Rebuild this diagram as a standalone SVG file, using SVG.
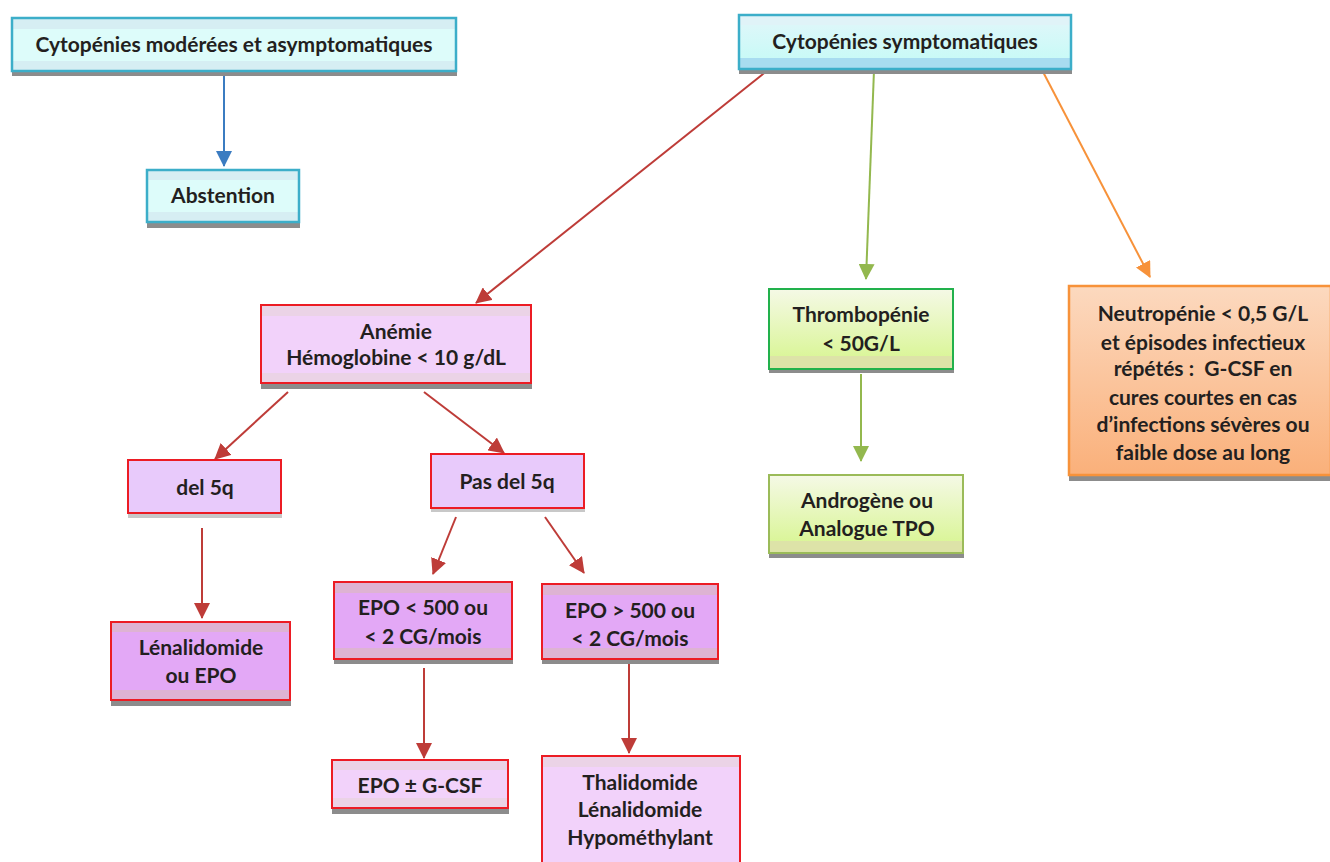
<svg xmlns="http://www.w3.org/2000/svg" width="1330" height="862" viewBox="0 0 1330 862">
<defs>
<style>
text{font-family:Lato,"Open Sans","Liberation Sans",sans-serif;font-weight:bold;font-size:21px;fill:#231F20;text-anchor:middle}
.sh{fill:#8C8C8C}
.cyb{fill:#D6EEF3}
.pkb{fill:#EBD3E6}
.pdb{fill:#DEB3D3}
.ar{stroke:#BE3C38;stroke-width:2;fill:none}
</style>
<linearGradient id="gg" x1="0" y1="0" x2="0" y2="1"><stop offset="0" stop-color="#F5F9E6"/><stop offset="1" stop-color="#D6F58C"/></linearGradient>
<linearGradient id="og" x1="0" y1="0" x2="0" y2="1"><stop offset="0" stop-color="#FCD9BF"/><stop offset="1" stop-color="#FAB07A"/></linearGradient>
<linearGradient id="cg" x1="0" y1="0" x2="0" y2="1"><stop offset="0" stop-color="#E2F6FA"/><stop offset="1" stop-color="#C3FBF6"/></linearGradient>
<marker id="mb" markerWidth="16" markerHeight="16" refX="15" refY="8" orient="auto" markerUnits="userSpaceOnUse" viewBox="0 0 16 16"><path d="M0,0 L16,8 L0,16 z" fill="#3B7CC1"/></marker>
<marker id="mg" markerWidth="16" markerHeight="16" refX="15" refY="8" orient="auto" markerUnits="userSpaceOnUse" viewBox="0 0 16 16"><path d="M0,0 L16,8 L0,16 z" fill="#93B84E"/></marker>
<marker id="mo" markerWidth="16" markerHeight="16" refX="15" refY="8" orient="auto" markerUnits="userSpaceOnUse" viewBox="0 0 16 16"><path d="M0,0 L16,8 L0,16 z" fill="#F7923A"/></marker>
<marker id="mR" markerWidth="16" markerHeight="16" refX="15" refY="8" orient="auto" markerUnits="userSpaceOnUse" viewBox="0 0 16 16"><path d="M0,0 L16,8 L0,16 z" fill="#BE3C38"/></marker>
</defs>
<rect width="1330" height="862" fill="#FFFFFF"/>

<g id="connectors">
<line x1="224" y1="76" x2="224" y2="166" stroke="#3B7CC1" stroke-width="2" marker-end="url(#mb)"/>
<line x1="768" y1="70" x2="476" y2="303" class="ar" marker-end="url(#mR)"/>
<line x1="874" y1="70" x2="866" y2="279" stroke="#93B84E" stroke-width="2" marker-end="url(#mg)"/>
<line x1="1041" y1="68" x2="1150" y2="277" stroke="#F7923A" stroke-width="2" marker-end="url(#mo)"/>
<line x1="861" y1="374" x2="861" y2="461" stroke="#93B84E" stroke-width="2" marker-end="url(#mg)"/>
<line x1="288" y1="392" x2="215" y2="459" class="ar" marker-end="url(#mR)"/>
<line x1="424" y1="392" x2="504" y2="453" class="ar" marker-end="url(#mR)"/>
<line x1="202" y1="528" x2="202" y2="618" class="ar" marker-end="url(#mR)"/>
<line x1="456" y1="517" x2="433" y2="574" class="ar" marker-end="url(#mR)"/>
<line x1="545" y1="517" x2="584" y2="573" class="ar" marker-end="url(#mR)"/>
<line x1="424" y1="668" x2="424" y2="758" class="ar" marker-end="url(#mR)"/>
<line x1="629" y1="663" x2="629" y2="753" class="ar" marker-end="url(#mR)"/>
</g>

<g id="n-moderees">
<rect x="12" y="22" width="445" height="54" class="sh"/>
<rect x="12" y="18" width="444" height="53" fill="#DDFCFA"/>
<rect x="12" y="18" width="444" height="11" class="cyb"/>
<rect x="12" y="61" width="444" height="10" class="cyb"/>
<rect x="12" y="18" width="444" height="53" fill="none" stroke="#3CAEC9" stroke-width="2.5"/>
<text x="234" y="52">Cytopénies modérées et asymptomatiques</text>
</g>

<g id="n-abstention">
<rect x="147" y="174" width="153" height="54" class="sh"/>
<rect x="147" y="170" width="152" height="52" fill="#DDFCFA"/>
<rect x="147" y="170" width="152" height="10" class="cyb"/>
<rect x="147" y="212" width="152" height="10" class="cyb"/>
<rect x="147" y="170" width="152" height="52" fill="none" stroke="#3CAEC9" stroke-width="2.5"/>
<text x="223" y="203">Abstention</text>
</g>

<g id="n-symptomatiques">
<rect x="739" y="19" width="333" height="55" class="sh"/>
<rect x="739" y="15" width="332" height="54" fill="url(#cg)"/>
<rect x="739" y="15" width="332" height="10" fill="#E0F3F8"/>
<rect x="739" y="58" width="332" height="11" fill="#A8DCF0"/>
<rect x="739" y="15" width="332" height="54" fill="none" stroke="#3CAEC9" stroke-width="2.5"/>
<text x="905" y="49">Cytopénies symptomatiques</text>
</g>

<g id="n-anemie">
<rect x="261" y="309" width="271" height="80" class="sh"/>
<rect x="261" y="305" width="270" height="78" fill="#F2D2FA"/>
<rect x="261" y="305" width="270" height="11" class="pkb"/>
<rect x="261" y="373" width="270" height="10" class="pkb"/>
<rect x="261" y="305" width="270" height="78" fill="none" stroke="#EC1C24" stroke-width="2"/>
<text x="396" y="339">Anémie</text>
<text x="396" y="365">Hémoglobine &lt; 10 g/dL</text>
</g>

<g id="n-thrombo">
<rect x="769" y="293" width="185" height="80" class="sh"/>
<rect x="769" y="289" width="184" height="80" fill="url(#gg)"/>
<rect x="769" y="356" width="184" height="13" fill="#DDE3A8"/>
<rect x="769" y="289" width="184" height="80" fill="none" stroke="#22B14C" stroke-width="2"/>
<text x="861" y="322">Thrombopénie</text>
<text x="861" y="351">&lt; 50G/L</text>
</g>

<g id="n-androgene">
<rect x="769" y="479" width="195" height="79" class="sh"/>
<rect x="769" y="475" width="194" height="78" fill="url(#gg)"/>
<rect x="769" y="541" width="194" height="12" fill="#DDE3A8"/>
<rect x="769" y="475" width="194" height="78" fill="none" stroke="#9BBB59" stroke-width="2"/>
<text x="867" y="508">Androgène ou</text>
<text x="867" y="536">Analogue TPO</text>
</g>

<g id="n-neutro">
<rect x="1069" y="290" width="262" height="191" class="sh"/>
<rect x="1069" y="286" width="262" height="189" fill="url(#og)"/>
<rect x="1069" y="286" width="262" height="189" fill="none" stroke="#F7923A" stroke-width="2.5"/>
<text x="1203" y="321">Neutropénie &lt; 0,5 G/L</text>
<text x="1203" y="350">et épisodes infectieux</text>
<text x="1203" y="376" style="white-space:pre">répétés :  G-CSF en</text>
<text x="1203" y="405">cures courtes en cas</text>
<text x="1203" y="432">d’infections sévères ou</text>
<text x="1203" y="460">faible dose au long</text>
</g>

<g id="n-del5q">
<rect x="128" y="464" width="154" height="54" fill="#C8C8C8"/>
<rect x="128" y="460" width="153" height="53" fill="#E8CAFB"/>
<rect x="128" y="460" width="153" height="53" fill="none" stroke="#EC1C24" stroke-width="2"/>
<text x="205" y="495">del 5q</text>
</g>

<g id="n-pasdel5q">
<rect x="431" y="458" width="154" height="54" fill="#C8C8C8"/>
<rect x="431" y="454" width="153" height="54" fill="#E8CAFB"/>
<rect x="431" y="454" width="153" height="54" fill="none" stroke="#EC1C24" stroke-width="2"/>
<text x="507" y="489">Pas del 5q</text>
</g>

<g id="n-lenalidomide">
<rect x="111" y="626" width="180" height="80" class="sh"/>
<rect x="111" y="622" width="179" height="78" fill="#E3A8F6"/>
<rect x="111" y="622" width="179" height="10" class="pdb"/>
<rect x="111" y="690" width="179" height="10" class="pdb"/>
<rect x="111" y="622" width="179" height="78" fill="none" stroke="#EC1C24" stroke-width="2"/>
<text x="201" y="655">Lénalidomide</text>
<text x="201" y="683">ou EPO</text>
</g>

<g id="n-epo-inf">
<rect x="334" y="586" width="179" height="78" class="sh"/>
<rect x="334" y="582" width="178" height="77" fill="#E3A8F6"/>
<rect x="334" y="582" width="178" height="11" class="pdb"/>
<rect x="334" y="648" width="178" height="11" class="pdb"/>
<rect x="334" y="582" width="178" height="77" fill="none" stroke="#EC1C24" stroke-width="2"/>
<text x="423" y="615">EPO &lt; 500 ou</text>
<text x="423" y="644">&lt; 2 CG/mois</text>
</g>

<g id="n-epo-sup">
<rect x="542" y="588" width="177" height="76" class="sh"/>
<rect x="542" y="584" width="176" height="75" fill="#E3A8F6"/>
<rect x="542" y="584" width="176" height="11" class="pdb"/>
<rect x="542" y="648" width="176" height="11" class="pdb"/>
<rect x="542" y="584" width="176" height="75" fill="none" stroke="#EC1C24" stroke-width="2"/>
<text x="630" y="618">EPO &gt; 500 ou</text>
<text x="630" y="646">&lt; 2 CG/mois</text>
</g>

<g id="n-epo-gcsf">
<rect x="332" y="764" width="177" height="50" class="sh"/>
<rect x="332" y="760" width="176" height="48" fill="#F2D2FA"/>
<rect x="332" y="760" width="176" height="10" class="pkb"/>
<rect x="332" y="798" width="176" height="10" class="pkb"/>
<rect x="332" y="760" width="176" height="48" fill="none" stroke="#EC1C24" stroke-width="2"/>
<text x="420" y="793">EPO ± G-CSF</text>
</g>

<g id="n-thalidomide">
<rect x="542" y="756" width="198" height="110" fill="#F2D2FA"/>
<rect x="542" y="756" width="198" height="11" class="pkb"/>
<rect x="542" y="756" width="198" height="110" fill="none" stroke="#EC1C24" stroke-width="2"/>
<text x="640" y="790">Thalidomide</text>
<text x="640" y="817">Lénalidomide</text>
<text x="640" y="845">Hypométhylant</text>
</g>
</svg>
